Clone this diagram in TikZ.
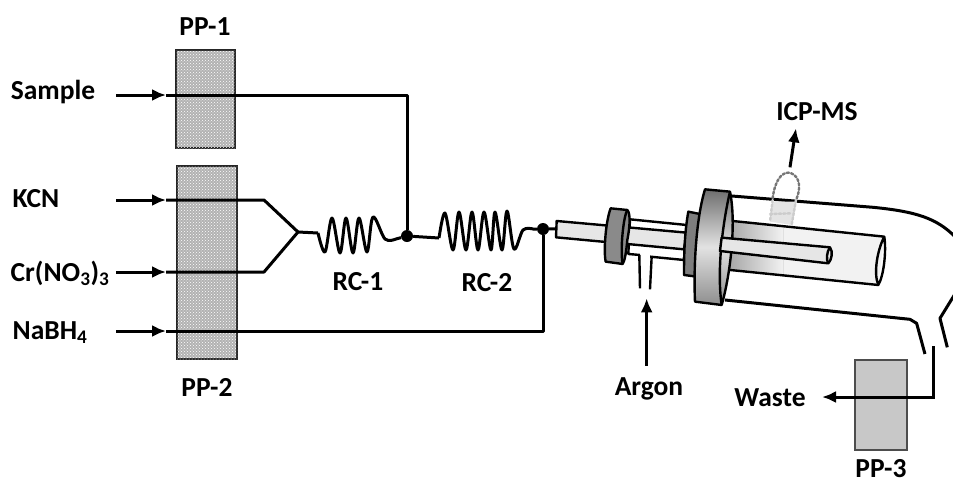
\documentclass[tikz,border=0pt]{standalone}
\usepackage{fontspec}
\setmainfont{Carlito}
\usepackage[HTML]{xcolor}
\usetikzlibrary{arrows.meta, patterns}

\definecolor{wastegray}{HTML}{C8C8C8}
\definecolor{plasmagray}{HTML}{E4E4E4}
\definecolor{dotdark}{HTML}{777777}
\definecolor{dotlight}{HTML}{CCCCCC}
\definecolor{tubedark}{HTML}{A8A8A8}
\definecolor{tubelight}{HTML}{F2F2F2}
\definecolor{rodgray}{HTML}{E6E6E6}
\definecolor{collargray}{HTML}{8A8A8A}
\definecolor{ringgray}{HTML}{7E7E7E}
\definecolor{flangetop}{HTML}{6E6E6E}
\definecolor{flangemid}{HTML}{E2E2E2}
\definecolor{flangelow}{HTML}{8E8E8E}

\tikzset{
  tag/.style={font=\fontsize{27.5}{29}\selectfont\bfseries, inner sep=0pt},
  pump/.style={draw=black!85, line width=1.8pt, fill=black!30, postaction={pattern=crosshatch dots, pattern color=white}},
  tube/.style={line width=3pt, line join=round},
  tip/.style={-{Latex[length=14pt,width=12pt]}, line width=3pt},
  spot/.style={circle, fill=black, inner sep=0pt, minimum size=12pt},
  part/.style={draw=black, line width=2.4pt, line join=round}
}

\begin{document}
\begin{tikzpicture}[x=1pt,y=-1pt]
\useasboundingbox (0,0) rectangle (953,485);
% pumps
\node[pump, minimum width=59pt, minimum height=98pt, inner sep=0pt] (pp1) at (205.5,99) {};
\node[pump, minimum width=60pt, minimum height=193pt, inner sep=0pt] (pp2) at (207,262.5) {};
\node[draw=black!70, line width=1.2pt, fill=wastegray, minimum width=52pt, minimum height=90pt, inner sep=0pt] (pp3) at (881,405) {};
% labels
\node[tag] (lsample) at (53,92) {Sample};
\node[tag] (lkcn) at (36,199) {KCN};
\node[tag] (lcr) at (60,273) {Cr(NO\textsubscript{3})\textsubscript{3}};
\node[tag] (lnabh) at (50,333) {NaBH\textsubscript{4}};
\node[tag] (lpp1) at (205,27) {PP-1};
\node[tag] (lpp2) at (207,387) {PP-2};
\node[tag] (lpp3) at (881,469) {PP-3};
\node[tag] (lrc1) at (358,282) {RC-1};
\node[tag] (lrc2) at (487,283) {RC-2};
\node[tag] (largon) at (649,389) {Argon};
\node[tag] (lwaste) at (770,398) {Waste};
\node[tag] (licp) at (817,112) {ICP-MS};
% joints
\node[spot] (j1) at (407,236) {};
\node[spot] (j2) at (543,229) {};
\coordinate (s0) at (116,95);
\coordinate (s1) at (166,95);
\coordinate (s2) at (407,95);
\coordinate (k0) at (116,200);
\coordinate (k1) at (166,200);
\coordinate (k2) at (264,200);
\coordinate (c0) at (116,272);
\coordinate (c1) at (166,272);
\coordinate (c2) at (264,272);
\coordinate (n0) at (116,331);
\coordinate (n1) at (166,331);
\coordinate (n2) at (543,331);
\coordinate (m) at (298,232);
\coordinate (w0) at (933,346);
\coordinate (w1) at (933,397);
\coordinate (w2) at (822,397);
% feed lines
\draw[tip] (s0) -- (s1);
\draw[tip] (k0) -- (k1);
\draw[tip] (c0) -- (c1);
\draw[tip] (n0) -- (n1);
\draw[tube] (s1) -- (s2) -- (j1);
\draw[tube] (k1) -- (k2) -- (m);
\draw[tube] (c1) -- (c2) -- (m);
\draw[tube] (n1) -- (n2) -- (j2);
% coils
\draw[tube] (m) -- (318,233) plot[smooth, tension=0.55] coordinates {(318,233) (325,252) (332,218) (340,253) (346,218) (353,253) (359,218) (367,252) (373,217) (385,239) (396,239)} -- (j1);
\draw[tube] (j1) -- (439,238) plot[smooth, tension=0.55] coordinates {(439,238) (445,213) (453,250) (459,212) (466,250) (472,212) (478,250) (484,212) (491,250) (495,212) (502,250) (507,211) (514,249) (523,230) (533,229)} -- (j2);
% torch
\begin{scope}[shift={(540,90)},x=0.3333pt,y=-0.3333pt]
\coordinate (in) at (50,417);
\draw[tube] (j2) -- (in);
% outer tube
\draw[tube] (575,318) -- (1000,352) .. controls (1130,365) and (1190,385) .. (1245,440);
\draw[tube] (555,630) -- (1110,688) -- (1130,700) -- (1155,792);
\draw[tube] (1245,612) -- (1200,685) -- (1222,772);
% plasma
\fill[plasmagray] (690,395) -- (698,335) -- (770,335) -- (757,405) -- cycle;
\draw[dotdark, line width=2.4pt, dotted, line cap=round] (698,325) .. controls (705,270) and (725,248) .. (745,248) .. controls (770,250) and (790,280) .. (768,330);
\draw[dotlight, line width=2.4pt, dotted, line cap=round] (698,330) -- (690,395) (768,330) -- (755,405) (690,372) -- (755,370);
% middle tube
\fill[left color=tubedark, right color=tubelight] (578,393) -- (730,409) -- (730,556) -- (570,540) -- cycle;
\fill[tubelight] (730,409) -- (1033,440) -- (1015,585) -- (730,556) -- cycle;
\draw[part] (578,393) -- (1033,440) .. controls (1040,490) and (1030,560) .. (1015,585) .. controls (1000,550) and (1012,480) .. (1033,440);
\draw[part] (570,540) -- (1015,585);
% rear tube
\filldraw[part, fill=white] (270,388) -- (440,405) -- (432,510) -- (330,500) -- (300,495) -- (265,492) -- cycle;
\fill[white] (300,488) rectangle (331,512);
\draw[part] (298,495) -- (300,595) (335,500) -- (330,598);
% inner tube
\filldraw[part, fill=rodgray] (50,393) -- (440,428) -- (432,478) -- (48,442) -- cycle;
% collar
\filldraw[part, fill=collargray] (212,355) -- (262,360) .. controls (272,370) and (270,410) .. (262,450) .. controls (258,490) and (255,510) .. (248,522) -- (197,515) .. controls (190,480) and (198,390) .. (212,355) -- cycle;
\draw[part] (262,360) .. controls (250,380) and (240,480) .. (248,522);
% small flange
\filldraw[part, fill=ringgray] (445,365) -- (480,372) -- (470,560) -- (432,555) .. controls (432,480) and (435,420) .. (445,365) -- cycle;
% big flange
\filldraw[part, top color=flangetop, bottom color=flangelow, middle color=flangemid] (495,298) -- (570,305) .. controls (590,400) and (570,560) .. (545,645) -- (465,635) .. controls (460,520) and (470,380) .. (495,298) -- cycle;
\draw[part] (570,305) .. controls (548,400) and (530,540) .. (545,645);
% rod
\filldraw[part, fill=rodgray] (545,443) -- (870,472) .. controls (880,485) and (875,510) .. (865,520) -- (540,483) -- cycle;
\draw[part] (870,472) .. controls (860,485) and (858,510) .. (865,520);
\coordinate (a0) at (750,232);
\coordinate (a1) at (768,115);
\coordinate (g0) at (320,828);
\coordinate (g1) at (320,625);
\end{scope}
% outlets
\draw[tip] (a0) -- (a1);
\draw[tip] (g0) -- (g1);
\draw[tip] (w0) -- (w1) -- (w2);
\end{tikzpicture}
\end{document}
